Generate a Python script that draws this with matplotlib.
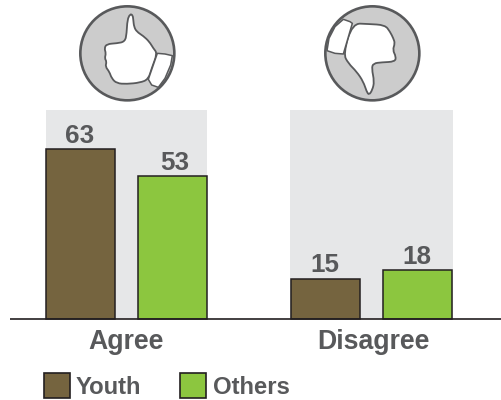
import matplotlib
matplotlib.use("Agg")
import matplotlib.pyplot as plt
from matplotlib.patches import Circle, PathPatch, Polygon, Rectangle
from matplotlib.path import Path

# ── data ────────────────────────────────────────────────────────────────
categories = ["Agree", "Disagree"]
youth = [63, 15]
others = [53, 18]
series_names = ["Youth", "Others"]

BROWN = "#75643f"
GREEN = "#8cc63f"
PANEL = "#e6e7e8"
TEXT = "#58595b"
EDGE = "#231f20"
ICON_EDGE = "#58595b"
ICON_FILL = "#cccccc"

W, H = 502, 400
BASE_Y = 319        # pixel row of the zero line
PX_PER_UNIT = 2.698
PANEL_TOP = 77.5    # background panel height, in value units

# ── hand outlines, in zoomed-icon coordinates (3x, box origin at 0,0) ───
UP_HAND = [(180, 42), (188, 45), (190, 60), (192, 80), (200, 95), (220, 108),
           (238, 125), (250, 145), (262, 160), (245, 205), (235, 238), (210, 248),
           (170, 252), (140, 250), (125, 235), (118, 215), (106, 200), (110, 185),
           (104, 175), (108, 160), (103, 145), (110, 132), (140, 130), (165, 125),
           (170, 100), (172, 60)]
UP_CUFF = [(262, 160), (285, 162), (307, 167), (302, 195), (285, 235), (265, 262),
           (245, 255), (235, 238)]
DOWN_HAND = [(112, 70), (160, 72), (210, 75), (225, 95), (235, 115), (240, 130),
             (233, 150), (243, 170), (240, 185), (200, 187), (175, 190), (170, 205),
             (178, 245), (172, 270), (162, 285), (155, 275), (145, 245), (125, 215),
             (100, 190), (85, 162)]
DOWN_CUFF = [(85, 58), (105, 65), (112, 70), (85, 162), (60, 160), (36, 152),
             (42, 115), (60, 80)]


def smooth_path(xy):
    # quadratic segments through edge midpoints, corners become the controls
    n = len(xy)
    mid = [((xy[i][0] + xy[(i + 1) % n][0]) / 2, (xy[i][1] + xy[(i + 1) % n][1]) / 2)
           for i in range(n)]
    verts = [mid[-1]]
    codes = [Path.MOVETO]
    for i in range(n):
        verts += [xy[i], mid[i]]
        codes += [Path.CURVE3, Path.CURVE3]
    return Path(verts, codes)


def draw_icon(ax, ox, hand, cuff):
    """Circle plus hand; ox is the left edge of the zoomed crop in pixels."""
    ax.add_patch(Circle((ox + 172 / 3, 160 / 3), 47, fc=ICON_FILL, ec=ICON_EDGE, lw=1.9))
    xy = [(ox + x / 3, y / 3) for x, y in hand]
    ax.add_patch(PathPatch(smooth_path(xy), fc="white", ec=ICON_EDGE, lw=1.3))
    xy = [(ox + x / 3, y / 3) for x, y in cuff]
    ax.add_patch(Polygon(xy, closed=True, fc="white", ec=ICON_EDGE, lw=1.1,
                         joinstyle="round"))


fig = plt.figure(figsize=(W / 100, H / 100), dpi=100)
plt.rcParams["font.family"] = ["Liberation Sans", "DejaVu Sans"]

# ── bars: x in pixels, y in value units with zero on the baseline ───────
ax = fig.add_axes([0, 0, 1, 1])
ax.set_xlim(0, W)
ax.set_ylim(-(H - BASE_Y) / PX_PER_UNIT, BASE_Y / PX_PER_UNIT)
ax.axis("off")

group_left = [46, 291]
panel_w = [161, 163]
youth_label_x = [79.5, 325]
others_label_x = [175, 416.5]
cat_label_x = [126, 373]
for i, cat in enumerate(categories):
    x0 = group_left[i]
    ax.bar(x0 + panel_w[i] / 2 - (i == 1), PANEL_TOP, width=panel_w[i], color=PANEL,
           linewidth=0, zorder=1)
    ax.bar(x0 + 34.5, youth[i], width=69, color=BROWN, edgecolor=EDGE, linewidth=1.1, zorder=2)
    ax.bar(x0 + 126.7, others[i], width=69, color=GREEN, edgecolor=EDGE, linewidth=1.1, zorder=2)
    ax.text(youth_label_x[i], youth[i] + 0.4, str(youth[i]), ha="center", va="bottom",
            fontsize=18.7, fontweight="bold", color=TEXT, zorder=3)
    ax.text(others_label_x[i], others[i] + 0.4, str(others[i]), ha="center", va="bottom",
            fontsize=18.7, fontweight="bold", color=TEXT, zorder=3)
    ax.text(cat_label_x[i], -8.0 - 0.4, cat, ha="center", va="center",
            fontsize=19.2, fontweight="bold", color=TEXT, zorder=3)

ax.plot([10, W], [0, 0], color=EDGE, lw=1.2, zorder=4, solid_capstyle="butt")

# ── icons and legend in a pixel overlay ─────────────────────────────────
ov = fig.add_axes([0, 0, 1, 1])
ov.set_xlim(0, W)
ov.set_ylim(H, 0)
ov.axis("off")
ov.patch.set_alpha(0)

draw_icon(ov, 70, UP_HAND, UP_CUFF)
draw_icon(ov, 315, DOWN_HAND, DOWN_CUFF)

legend_x = [44.5, 180.5]
legend_text_x = [76, 213]
legend_colors = [BROWN, GREEN]
for name, lx, tx, c in zip(series_names, legend_x, legend_text_x, legend_colors):
    ov.add_patch(Rectangle((lx, 372.5), 25.5, 25.5, fc=c, ec=EDGE, lw=1.2))
    ov.text(tx, 387, name, ha="left", va="center", fontsize=17.2,
            fontweight="bold", color=TEXT)

fig.savefig("out.png", dpi=100)
